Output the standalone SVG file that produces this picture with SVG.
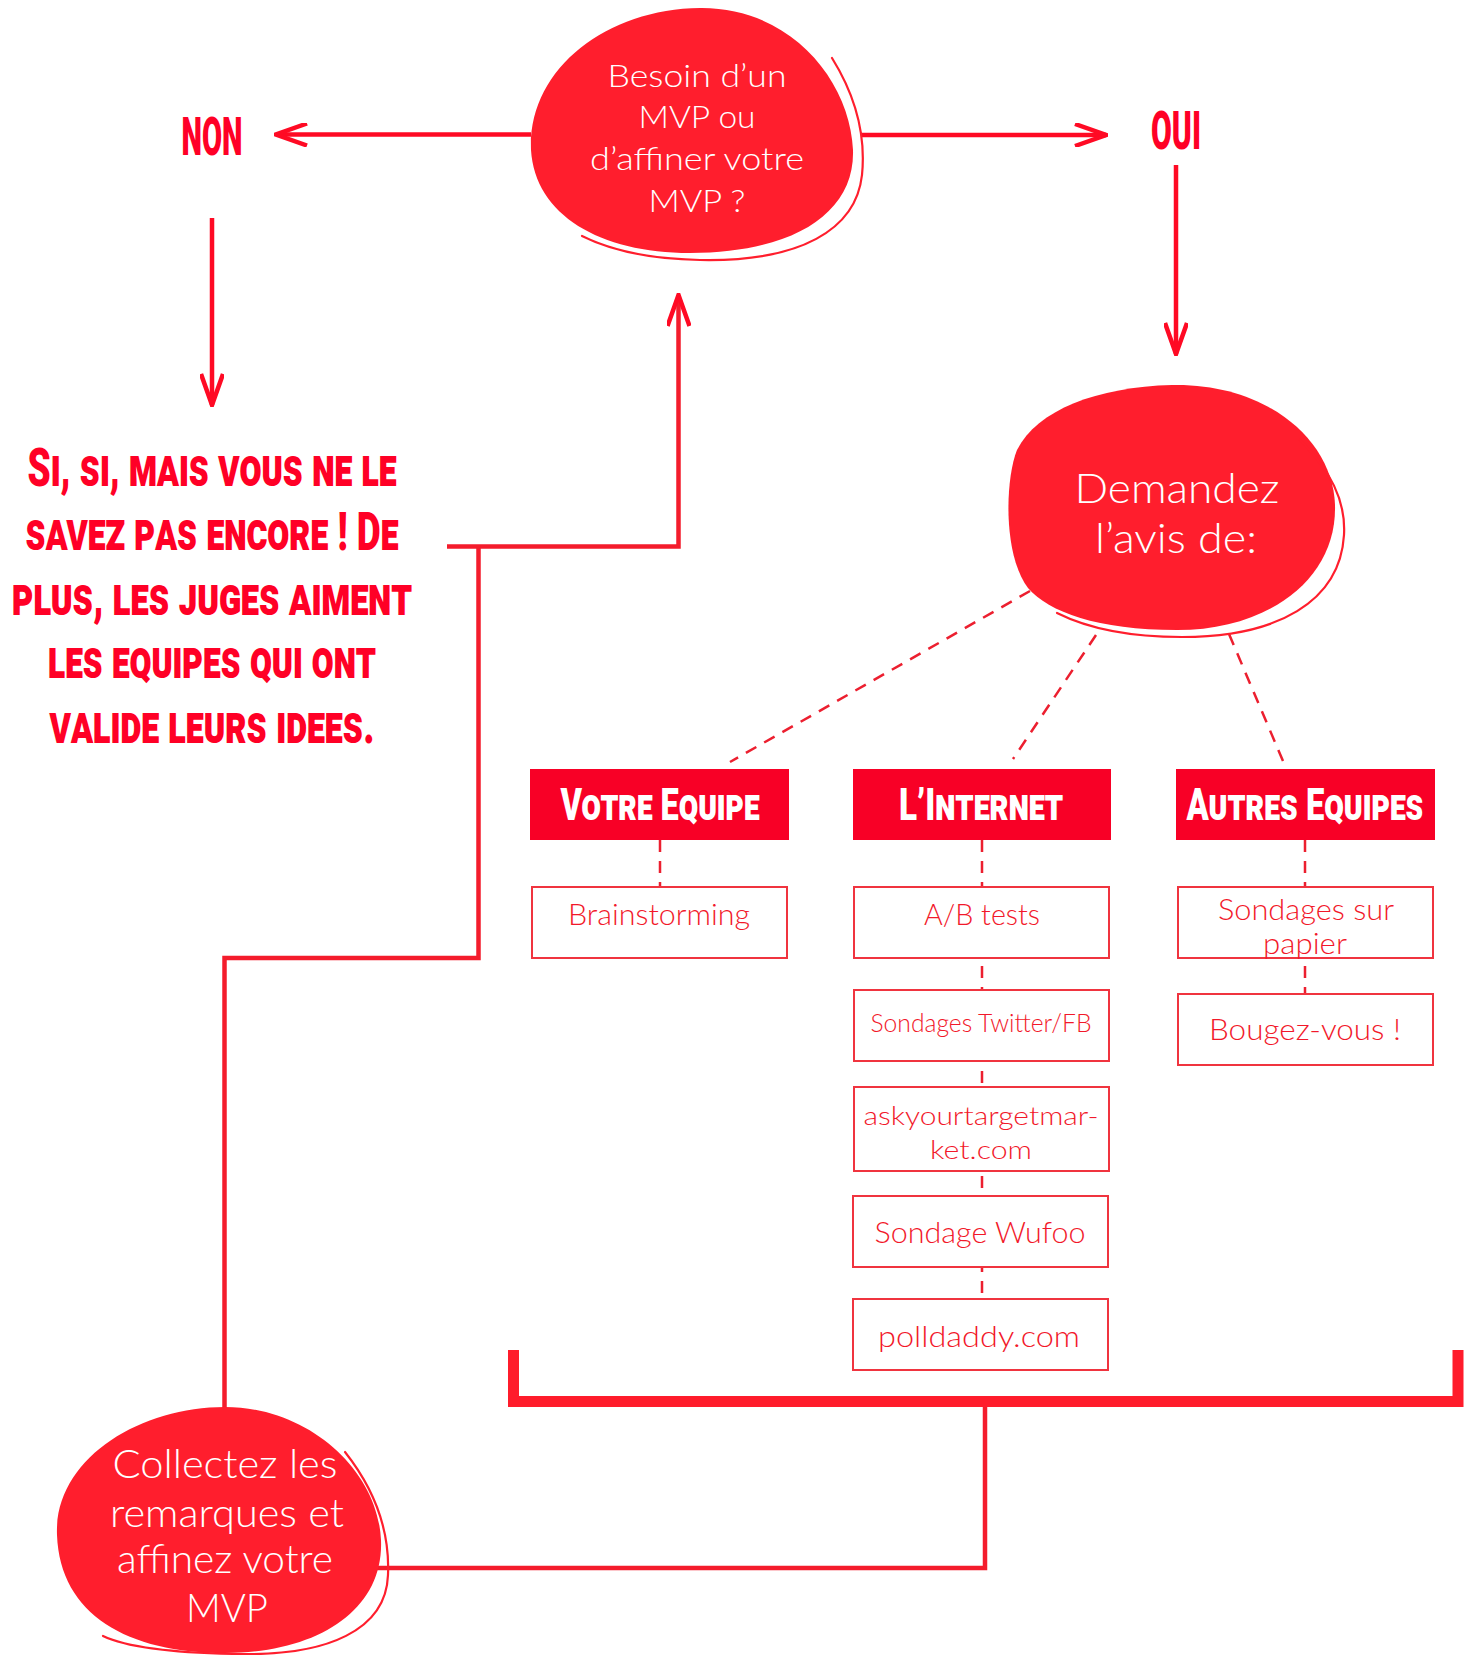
<svg xmlns="http://www.w3.org/2000/svg" width="1473" height="1655" viewBox="0 0 1473 1655">
  <defs>
    <style>
      .blob { fill: #FF1E2D; }
      .ring { fill: none; stroke: #FF1E2D; stroke-width: 2.2; stroke-linecap: round; }
      .btxt { font-family: "Lato", "Open Sans", "Liberation Sans", sans-serif; font-weight: 300; fill: #FFFFFF; text-anchor: middle; }
      .disp { font-family: "Roboto", "Liberation Sans", sans-serif; font-weight: 900; fill: #FF0026; text-anchor: middle; font-variant: small-caps; }
      .head { fill: #F80026; }
      .htxt { font-family: "Roboto", "Liberation Sans", sans-serif; font-weight: 900; fill: #FFFFFF; text-anchor: middle; font-variant: small-caps; font-size: 44px; }
      .box { fill: #FFFFFF; stroke: #F0343F; stroke-width: 2; }
      .stxt { font-family: "Lato", "Open Sans", "Liberation Sans", sans-serif; font-weight: 300; fill: #F2182A; text-anchor: middle; }
      .line { fill: none; stroke: #FF0A24; stroke-width: 4.5; }
      .conn { fill: none; stroke: #F41C2C; stroke-width: 4.5; stroke-linejoin: miter; }
      .dash { fill: none; stroke: #EC1F2F; stroke-width: 2.5; stroke-dasharray: 12 9; }
      .brk { fill: none; stroke: #FF1C2B; stroke-width: 11; stroke-linejoin: miter; }
    </style>
    <marker id="chev" viewBox="0 0 34 24" refX="32" refY="12" markerWidth="34" markerHeight="24" markerUnits="userSpaceOnUse" orient="auto">
      <path d="M1,1 L32,12 L1,23" fill="none" stroke="#FF0A24" stroke-width="4.5"/>
    </marker>
  </defs>

  <!-- connectors -->
  <g id="connectors">
    <line class="line" x1="531" y1="134.5" x2="276" y2="134.5" marker-end="url(#chev)"/>
    <line class="line" x1="862" y1="135" x2="1106" y2="135" marker-end="url(#chev)"/>
    <line class="line" x1="212" y1="218" x2="212" y2="405" marker-end="url(#chev)"/>
    <line class="line" x1="1176" y1="165" x2="1176" y2="354" marker-end="url(#chev)"/>
    <path class="conn" d="M447,546.5 H678.5 V295" marker-end="url(#chev)"/>
    <path class="conn" d="M478.5,546.5 V958 H224.5 V1410"/>
    <path class="conn" d="M985,1402 V1568 H370"/>
    <path class="brk" d="M513.5,1350 V1401.5 H1458 V1350"/>
    <line class="dash" x1="1030" y1="591" x2="730" y2="762"/>
    <line class="dash" x1="1096" y1="635" x2="1013" y2="759"/>
    <line class="dash" x1="1229" y1="634" x2="1283" y2="761"/>
    <line class="dash" x1="660" y1="840" x2="660" y2="887"/>
    <line class="dash" x1="982" y1="840" x2="982" y2="1299"/>
    <line class="dash" x1="1305" y1="840" x2="1305" y2="994"/>
  </g>

  <!-- top decision blob -->
  <g id="node-besoin">
    <path class="blob" d="M700,8 C790,7 850,80 853,150 C855,215 790,253 690,253 C600,253 535,215 531,150 C528,70 605,9 700,8 Z"/>
    <path class="ring" d="M832,58 C855,95 866,135 862,175 C856,230 800,262 700,260 C650,259 610,250 582,236"/>
    <text class="btxt" font-size="32" x="697" y="87" textLength="179" lengthAdjust="spacingAndGlyphs">Besoin d’un</text>
    <text class="btxt" font-size="32" x="697" y="128" textLength="117" lengthAdjust="spacingAndGlyphs">MVP ou</text>
    <text class="btxt" font-size="32" x="697" y="170" textLength="214" lengthAdjust="spacingAndGlyphs">d’affiner votre</text>
    <text class="btxt" font-size="32" x="697" y="212" textLength="97" lengthAdjust="spacingAndGlyphs">MVP ?</text>
  </g>

  <g id="node-non">
    <text class="disp" font-size="53" x="212" y="155" textLength="61" lengthAdjust="spacingAndGlyphs">NON</text>
  </g>

  <g id="node-oui">
    <text class="disp" font-size="53" x="1176" y="149" textLength="50" lengthAdjust="spacingAndGlyphs">OUI</text>
  </g>

  <g id="node-sisi">
    <text class="disp" font-size="53" x="212" y="486" textLength="369" lengthAdjust="spacingAndGlyphs">Si, si, mais vous ne le</text>
    <text class="disp" font-size="53" x="212" y="550" textLength="373" lengthAdjust="spacingAndGlyphs">savez pas encore ! De</text>
    <text class="disp" font-size="53" x="212" y="615" textLength="400" lengthAdjust="spacingAndGlyphs">plus, les juges aiment</text>
    <text class="disp" font-size="53" x="212" y="678" textLength="328" lengthAdjust="spacingAndGlyphs">les equipes qui ont</text>
    <text class="disp" font-size="53" x="212" y="743" textLength="325" lengthAdjust="spacingAndGlyphs">valide leurs idees.</text>
  </g>

  <g id="node-demandez">
    <path class="blob" d="M1172,385 C1267,383 1333,440 1335,505 C1337,580 1267,630 1177,630 C1097,630 1049,612 1028,588 C1003,555 1005,480 1017,450 C1037,410 1097,387 1172,385 Z"/>
    <path class="ring" d="M1300,440 C1330,470 1346,500 1344,535 C1340,602 1277,637 1182,637 C1127,637 1087,628 1057,613"/>
    <text class="btxt" font-size="42" x="1177" y="503" textLength="205" lengthAdjust="spacingAndGlyphs">Demandez</text>
    <text class="btxt" font-size="42" x="1176" y="553" textLength="162" lengthAdjust="spacingAndGlyphs">l’avis de:</text>
  </g>

  <g id="node-votre-equipe">
    <rect class="head" x="530" y="769" width="259" height="71"/>
    <text class="htxt" x="660" y="820" textLength="199" lengthAdjust="spacingAndGlyphs">Votre Equipe</text>
  </g>
  <g id="node-internet">
    <rect class="head" x="853" y="769" width="258" height="71"/>
    <text class="htxt" x="981" y="820" textLength="164" lengthAdjust="spacingAndGlyphs">L’Internet</text>
  </g>
  <g id="node-autres-equipes">
    <rect class="head" x="1176" y="769" width="259" height="71"/>
    <text class="htxt" x="1305" y="820" textLength="237" lengthAdjust="spacingAndGlyphs">Autres Equipes</text>
  </g>

  <g id="node-brainstorming">
    <rect class="box" x="532" y="887" width="255" height="71"/>
    <text class="stxt" font-size="29" x="659" y="925" textLength="182" lengthAdjust="spacingAndGlyphs">Brainstorming</text>
  </g>
  <g id="node-ab-tests">
    <rect class="box" x="854" y="887" width="255" height="71"/>
    <text class="stxt" font-size="29" x="982" y="925" textLength="116" lengthAdjust="spacingAndGlyphs">A/B tests</text>
  </g>
  <g id="node-twitter">
    <rect class="box" x="854" y="990" width="255" height="71"/>
    <text class="stxt" font-size="25" x="981" y="1032" textLength="221" lengthAdjust="spacingAndGlyphs">Sondages Twitter/FB</text>
  </g>
  <g id="node-askyourtargetmarket">
    <rect class="box" x="854" y="1087" width="255" height="84"/>
    <text class="stxt" font-size="26" x="981" y="1125" textLength="235" lengthAdjust="spacingAndGlyphs">askyourtargetmar-</text>
    <text class="stxt" font-size="26" x="981" y="1159" textLength="102" lengthAdjust="spacingAndGlyphs">ket.com</text>
  </g>
  <g id="node-wufoo">
    <rect class="box" x="853" y="1196" width="255" height="71"/>
    <text class="stxt" font-size="29" x="980" y="1243" textLength="211" lengthAdjust="spacingAndGlyphs">Sondage Wufoo</text>
  </g>
  <g id="node-polldaddy">
    <rect class="box" x="853" y="1299" width="255" height="71"/>
    <text class="stxt" font-size="29" x="979" y="1347" textLength="202" lengthAdjust="spacingAndGlyphs">polldaddy.com</text>
  </g>
  <g id="node-papier">
    <rect class="box" x="1178" y="887" width="255" height="71"/>
    <text class="stxt" font-size="29" x="1306" y="920" textLength="176" lengthAdjust="spacingAndGlyphs">Sondages sur</text>
    <text class="stxt" font-size="29" x="1305" y="954" textLength="84" lengthAdjust="spacingAndGlyphs">papier</text>
  </g>
  <g id="node-bougez">
    <rect class="box" x="1178" y="994" width="255" height="71"/>
    <text class="stxt" font-size="29" x="1305" y="1040" textLength="192" lengthAdjust="spacingAndGlyphs">Bougez-vous !</text>
  </g>

  <g id="node-collectez">
    <path class="blob" d="M225,1407 C308,1407 378,1470 381,1540 C384,1610 318,1653 225,1653 C128,1653 60,1615 57,1535 C54,1460 138,1407 225,1407 Z"/>
    <path class="ring" d="M345,1452 C375,1490 390,1530 388,1575 C386,1630 328,1656 238,1654 C178,1653 128,1648 103,1636"/>
    <text class="btxt" font-size="39" x="225" y="1478" textLength="225" lengthAdjust="spacingAndGlyphs">Collectez les</text>
    <text class="btxt" font-size="39" x="227" y="1527" textLength="234" lengthAdjust="spacingAndGlyphs">remarques et</text>
    <text class="btxt" font-size="39" x="225" y="1573" textLength="216" lengthAdjust="spacingAndGlyphs">affinez votre</text>
    <text class="btxt" font-size="39" x="227" y="1622" textLength="82" lengthAdjust="spacingAndGlyphs">MVP</text>
  </g>
</svg>
